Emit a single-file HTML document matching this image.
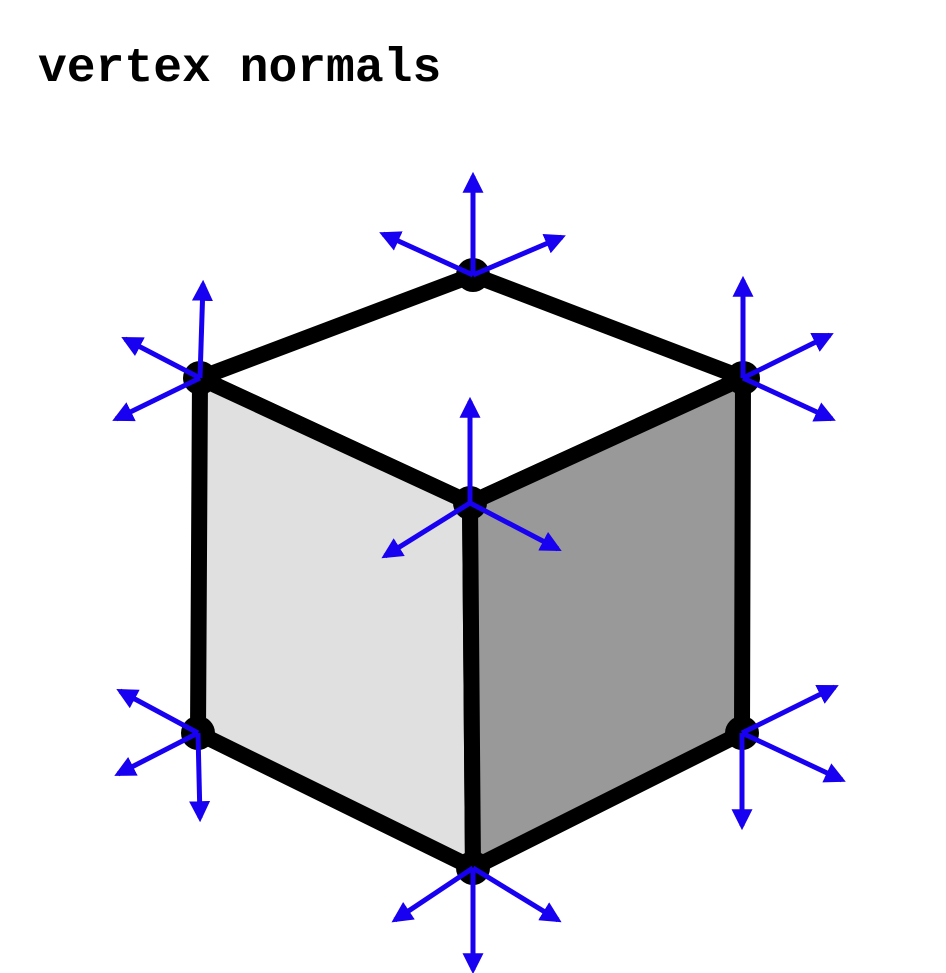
<!DOCTYPE html>
<html>
<head>
<meta charset="utf-8">
<style>
html,body{margin:0;padding:0;background:#fff;}
svg{display:block;}
</style>
</head>
<body>
<svg width="946" height="973" viewBox="0 0 946 973" xmlns="http://www.w3.org/2000/svg">
<defs>
<marker id="ah" viewBox="0 0 10 10" refX="8" refY="5" markerWidth="4.2" markerHeight="4.2" orient="auto" markerUnits="strokeWidth">
<path d="M0,0 L10,5 L0,10 z" fill="#1800f0"/>
</marker>
</defs>
<text x="38" y="81" font-family="Liberation Mono, monospace" font-weight="bold" font-size="48" fill="#000">vertex normals</text>
<g id="cube"></g>
<g id="arrows"></g>
</svg>
<script>
const vertexNames = ['top','left-top','right-top','center','left-bottom','right-bottom','bottom'];
const vertexX = [473,200,743,470,198,742,473];
const vertexY = [275,378,378,503,733,733,868];
// arrow tips per vertex
const arrowTips = [
 [[473,176],[383,234],[562,237]],
 [[203,284],[125,339],[116,419]],
 [[743,280],[830,335],[832,419]],
 [[470,401],[385,556],[558,549]],
 [[120,691],[118,774],[200,818]],
 [[835,687],[842,780],[742,826]],
 [[395,920],[558,920],[473,970]]
];
const ns='http://www.w3.org/2000/svg';
const cube=document.getElementById('cube');
const arrows=document.getElementById('arrows');
function P(i){return vertexX[i]+','+vertexY[i];}
function poly(idx,fill,name){
 const p=document.createElementNS(ns,'polygon');
 p.setAttribute('points',idx.map(P).join(' '));
 p.setAttribute('fill',fill);
 p.setAttribute('stroke','#000');
 p.setAttribute('stroke-width','16');
 p.setAttribute('stroke-linejoin','round');
 
 
 cube.appendChild(p);
}
poly([0,1,3,2],'#ffffff','top-face');
poly([1,3,6,4],'#e0e0e0','left-face');
poly([3,2,5,6],'#999999','right-face');
vertexNames.forEach((n,i)=>{
 const c=document.createElementNS(ns,'circle');
 c.setAttribute('cx',vertexX[i]);c.setAttribute('cy',vertexY[i]);c.setAttribute('r','17');
 c.setAttribute('fill','#000');
 
 
 cube.appendChild(c);
 arrowTips[i].forEach((t,k)=>{
  const l=document.createElementNS(ns,'line');
  l.setAttribute('x1',vertexX[i]);l.setAttribute('y1',vertexY[i]);
  l.setAttribute('x2',t[0]);l.setAttribute('y2',t[1]);
  l.setAttribute('stroke','#1800f0');l.setAttribute('stroke-width','5');
  l.setAttribute('marker-end','url(#ah)');
  
  
  arrows.appendChild(l);
 });
});
</script>
</body>
</html>
